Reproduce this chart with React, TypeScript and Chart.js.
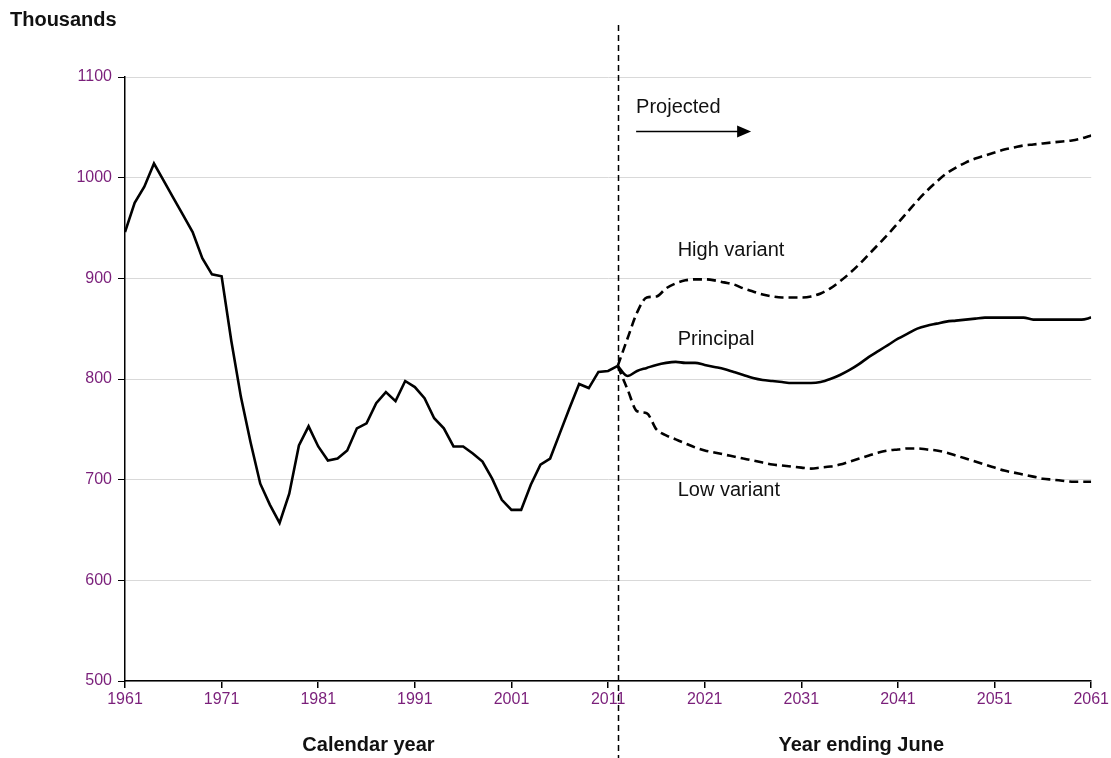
import React, { useEffect, useRef } from "react";
import { Chart, registerables } from "chart.js";

Chart.register(...registerables);

const historyYears = [
  1961, 1962, 1963, 1964, 1965, 1966, 1967, 1968, 1969, 1970,
  1971, 1972, 1973, 1974, 1975, 1976, 1977, 1978, 1979, 1980,
  1981, 1982, 1983, 1984, 1985, 1986, 1987, 1988, 1989, 1990,
  1991, 1992, 1993, 1994, 1995, 1996, 1997, 1998, 1999, 2000,
  2001, 2002, 2003, 2004, 2005, 2006, 2007, 2008, 2009, 2010,
  2011, 2012,
];
const historyValues = [
  946, 975, 991, 1014, 997, 980, 963, 946, 920, 904,
  902, 838, 782, 737, 696, 675, 657, 686, 734, 753,
  733, 719, 721, 729, 751, 756, 776, 787, 778, 798,
  792, 781, 761, 751, 733, 733, 726, 718, 701, 680,
  670, 670, 695, 715, 721, 746, 771, 795, 791, 807,
  808, 813,
];

const projectionYears = [
  2012, 2013, 2014, 2015, 2016, 2017, 2018, 2019, 2020, 2021,
  2022, 2023, 2024, 2025, 2026, 2027, 2028, 2029, 2030, 2031,
  2032, 2033, 2034, 2035, 2036, 2037, 2038, 2039, 2040, 2041,
  2042, 2043, 2044, 2045, 2046, 2047, 2048, 2049, 2050, 2051,
  2052, 2053, 2054, 2055, 2056, 2057, 2058, 2059, 2060, 2061,
];
const principalValues = [
  813, 803, 808, 811, 814, 816, 817, 816, 816, 814,
  812, 810, 807, 804, 801, 799, 798, 797, 796, 796,
  796, 797, 800, 804, 809, 815, 822, 828, 834, 840,
  845, 850, 853, 855, 857, 858, 859, 860, 861, 861,
  861, 861, 861, 859, 859, 859, 859, 859, 859, 861,
];
const highValues = [
  813, 840, 866, 881, 882, 890, 895, 898, 899, 899,
  898, 896, 894, 890, 887, 884, 882, 881, 881, 881,
  882, 885, 890, 897, 905, 914, 924, 934, 944, 955,
  966, 977, 987, 996, 1004, 1010, 1015, 1019, 1022, 1025,
  1028, 1030, 1032, 1033, 1034, 1035, 1036, 1037, 1039, 1042,
];
const lowValues = [
  813, 790, 768, 766, 750, 744, 740, 736, 732, 729,
  727, 725, 723, 721, 719, 717, 715, 714, 713, 712,
  711, 712, 713, 715, 718, 721, 724, 727, 729, 730,
  731, 731, 730, 729, 727, 724, 721, 718, 715, 712,
  709, 707, 705, 703, 701, 700, 699, 698, 698, 698,
];

const xTickValues = [1961, 1971, 1981, 1991, 2001, 2011, 2021, 2031, 2041, 2051, 2061];
const yMin = 500;
const yMax = 1100;
const yStep = 100;
const projectionStartYear = 2012;

const FONT = "'Liberation Sans', Arial, Helvetica, sans-serif";

const toPoints = (xs: number[], ys: number[]) => xs.map((x, i) => ({ x, y: ys[i] }));

const annotationPlugin = {
  id: "customAnnotations",
  afterDraw(chart: any) {
    const { ctx, scales, chartArea } = chart;
    const x = scales.x;
    const y = scales.y;
    ctx.save();

    // vertical dashed divider
    const vx = Math.round(x.getPixelForValue(projectionStartYear)) + 0.5;
    ctx.strokeStyle = "#000";
    ctx.lineWidth = 1.5;
    ctx.setLineDash([6, 4]);
    ctx.beginPath();
    ctx.moveTo(vx, 25);
    ctx.lineTo(vx, chart.height);
    ctx.stroke();
    ctx.setLineDash([]);

    // Projected arrow
    const ax1 = x.getPixelForValue(2013.9);
    const ax2 = x.getPixelForValue(2025.8);
    const ay = Math.round(y.getPixelForValue(1046)) + 0.5;
    ctx.lineWidth = 1.5;
    ctx.beginPath();
    ctx.moveTo(ax1, ay);
    ctx.lineTo(ax2 - 12, ay);
    ctx.stroke();
    ctx.fillStyle = "#000";
    ctx.beginPath();
    ctx.moveTo(ax2, ay);
    ctx.lineTo(ax2 - 14, ay - 6);
    ctx.lineTo(ax2 - 14, ay + 6);
    ctx.closePath();
    ctx.fill();

    // text labels
    ctx.fillStyle = "#111";
    ctx.textBaseline = "middle";
    ctx.textAlign = "left";
    ctx.font = `20px ${FONT}`;
    ctx.fillText("Projected", x.getPixelForValue(2013.9), y.getPixelForValue(1070));
    ctx.fillText("High variant", x.getPixelForValue(2018.2), y.getPixelForValue(928));
    ctx.fillText("Principal", x.getPixelForValue(2018.2), y.getPixelForValue(839));
    ctx.fillText("Low variant", x.getPixelForValue(2018.2), y.getPixelForValue(689));

    ctx.font = `bold 20px ${FONT}`;
    ctx.fillText("Thousands", 10, 20);

    ctx.textAlign = "center";
    const by = chartArea.bottom + 64;
    ctx.fillText("Calendar year", x.getPixelForValue(1986.2), by);
    ctx.fillText("Year ending June", x.getPixelForValue(2037.2), by);

    ctx.restore();
  },
};

export default function App() {
  const canvasRef = useRef<HTMLCanvasElement | null>(null);

  useEffect(() => {
    if (!canvasRef.current) return;
    Chart.defaults.font.family = FONT;
    const lineCommon = {
      borderColor: "#000",
      borderWidth: 2.6,
      pointRadius: 0,
      pointHoverRadius: 0,
      fill: false,
    };
    const chart = new Chart(canvasRef.current, {
      type: "line",
      data: {
        datasets: [
          { ...lineCommon, label: "Historical", data: toPoints(historyYears, historyValues), tension: 0 },
          { ...lineCommon, label: "High variant", data: toPoints(projectionYears, highValues), borderDash: [9, 5], cubicInterpolationMode: "monotone" },
          { ...lineCommon, label: "Low variant", data: toPoints(projectionYears, lowValues), borderDash: [9, 5], cubicInterpolationMode: "monotone" },
          { ...lineCommon, label: "Principal", data: toPoints(projectionYears, principalValues), cubicInterpolationMode: "monotone" },
        ],
      },
      options: {
        animation: false,
        responsive: true,
        maintainAspectRatio: false,
        layout: { padding: { top: 77, right: 19, left: 0, bottom: 0 } },
        plugins: {
          legend: { display: false },
          tooltip: { enabled: false },
        },
        scales: {
          x: {
            type: "linear",
            min: 1961,
            max: 2061,
            afterBuildTicks: (scale: any) => {
              scale.ticks = xTickValues.map((v) => ({ value: v }));
            },
            afterFit: (scale: any) => {
              scale.height = 77;
            },
            ticks: {
              autoSkip: false,
              maxRotation: 0,
              padding: 2,
              color: "#7a1f7a",
              font: { size: 16, family: FONT },
              callback: (v: any) => String(v),
            },
            grid: {
              drawOnChartArea: false,
              color: "#000",
              tickColor: "#000",
              tickLength: 7,
              lineWidth: 1.5,
            },
            border: { color: "#000", width: 1.5 },
          },
          y: {
            min: yMin,
            max: yMax,
            ticks: {
              stepSize: yStep,
              padding: 6,
              color: "#7a1f7a",
              font: { size: 16, family: FONT },
              callback: (v: any) => String(v),
            },
            afterFit: (scale: any) => {
              scale.width = 125;
            },
            grid: {
              color: "#d9d9d9",
              lineWidth: 1,
              tickColor: "#000",
              tickLength: 7,
            },
            border: { color: "#000", width: 1.5 },
          },
        },
      },
      plugins: [annotationPlugin],
    });
    return () => chart.destroy();
  }, []);

  return (
    <div style={{ position: "absolute", left: 0, top: 0, width: 1111, height: 758, background: "#fff" }}>
      <canvas ref={canvasRef} />
    </div>
  );
}
